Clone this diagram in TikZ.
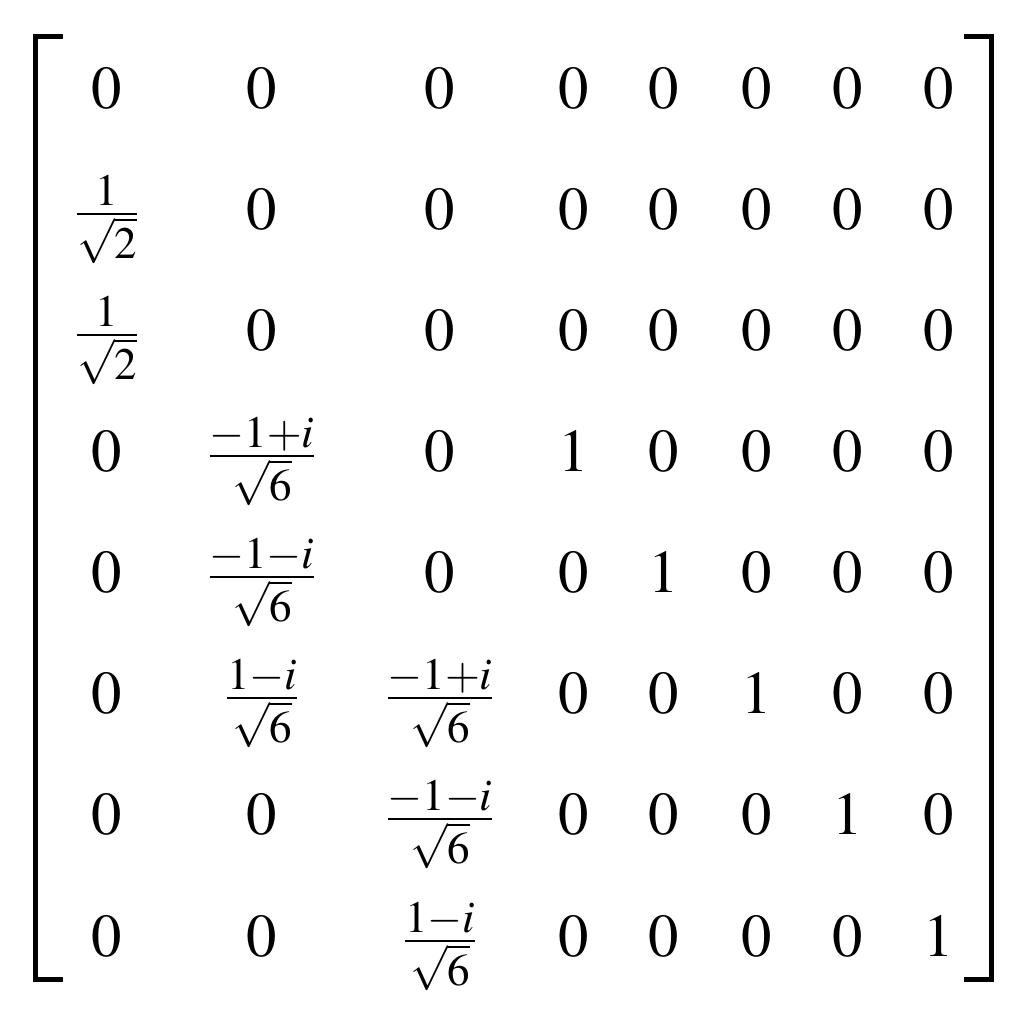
\documentclass[tikz,border=0pt]{standalone}
\usepackage{mathptmx}
\tikzset{
  entry/.style={anchor=base, inner sep=0pt, font=\fontsize{24.3}{29}\selectfont},
  bracket/.style={line width=2pt, line cap=rect}
}
\begin{document}
\begin{tikzpicture}[x=0.4pt, y=-0.4pt]
    \useasboundingbox (0, 0) rectangle (1024, 1016);

    % brackets
    \draw [bracket] (60, 36) -- (35, 36) -- (35, 979) -- (60, 979);
    \draw [bracket] (966, 36) -- (991, 36) -- (991, 979) -- (966, 979);

    % row 1
    \node [entry] (r1c1) at (107, 108) {$0$}; \node [entry] (r1c2) at (262, 108) {$0$}; \node [entry] (r1c3) at (440, 108) {$0$}; \node [entry] (r1c4) at (574, 108) {$0$};
    \node [entry] (r1c5) at (664, 108) {$0$}; \node [entry] (r1c6) at (757, 108) {$0$}; \node [entry] (r1c7) at (848, 108) {$0$}; \node [entry] (r1c8) at (939, 108) {$0$};
    % row 2
    \node [entry] (r2c1) at (107, 229) {$\frac{1}{\sqrt{2}}$}; \node [entry] (r2c2) at (262, 229) {$0$}; \node [entry] (r2c3) at (440, 229) {$0$}; \node [entry] (r2c4) at (574, 229) {$0$};
    \node [entry] (r2c5) at (664, 229) {$0$}; \node [entry] (r2c6) at (757, 229) {$0$}; \node [entry] (r2c7) at (848, 229) {$0$}; \node [entry] (r2c8) at (939, 229) {$0$};
    % row 3
    \node [entry] (r3c1) at (107, 350) {$\frac{1}{\sqrt{2}}$}; \node [entry] (r3c2) at (262, 350) {$0$}; \node [entry] (r3c3) at (440, 350) {$0$}; \node [entry] (r3c4) at (574, 350) {$0$};
    \node [entry] (r3c5) at (664, 350) {$0$}; \node [entry] (r3c6) at (757, 350) {$0$}; \node [entry] (r3c7) at (848, 350) {$0$}; \node [entry] (r3c8) at (939, 350) {$0$};
    % row 4
    \node [entry] (r4c1) at (107, 471) {$0$}; \node [entry] (r4c2) at (262, 471) {$\frac{-1+i}{\sqrt{6}}$}; \node [entry] (r4c3) at (440, 471) {$0$}; \node [entry] (r4c4) at (574, 471) {$1$};
    \node [entry] (r4c5) at (664, 471) {$0$}; \node [entry] (r4c6) at (757, 471) {$0$}; \node [entry] (r4c7) at (848, 471) {$0$}; \node [entry] (r4c8) at (939, 471) {$0$};
    % row 5
    \node [entry] (r5c1) at (107, 592) {$0$}; \node [entry] (r5c2) at (262, 592) {$\frac{-1-i}{\sqrt{6}}$}; \node [entry] (r5c3) at (440, 592) {$0$}; \node [entry] (r5c4) at (574, 592) {$0$};
    \node [entry] (r5c5) at (664, 592) {$1$}; \node [entry] (r5c6) at (757, 592) {$0$}; \node [entry] (r5c7) at (848, 592) {$0$}; \node [entry] (r5c8) at (939, 592) {$0$};
    % row 6
    \node [entry] (r6c1) at (107, 713) {$0$}; \node [entry] (r6c2) at (262, 713) {$\frac{1-i}{\sqrt{6}}$}; \node [entry] (r6c3) at (440, 713) {$\frac{-1+i}{\sqrt{6}}$}; \node [entry] (r6c4) at (574, 713) {$0$};
    \node [entry] (r6c5) at (664, 713) {$0$}; \node [entry] (r6c6) at (757, 713) {$1$}; \node [entry] (r6c7) at (848, 713) {$0$}; \node [entry] (r6c8) at (939, 713) {$0$};
    % row 7
    \node [entry] (r7c1) at (107, 834) {$0$}; \node [entry] (r7c2) at (262, 834) {$0$}; \node [entry] (r7c3) at (440, 834) {$\frac{-1-i}{\sqrt{6}}$}; \node [entry] (r7c4) at (574, 834) {$0$};
    \node [entry] (r7c5) at (664, 834) {$0$}; \node [entry] (r7c6) at (757, 834) {$0$}; \node [entry] (r7c7) at (848, 834) {$1$}; \node [entry] (r7c8) at (939, 834) {$0$};
    % row 8
    \node [entry] (r8c1) at (107, 956) {$0$}; \node [entry] (r8c2) at (262, 956) {$0$}; \node [entry] (r8c3) at (440, 956) {$\frac{1-i}{\sqrt{6}}$}; \node [entry] (r8c4) at (574, 956) {$0$};
    \node [entry] (r8c5) at (664, 956) {$0$}; \node [entry] (r8c6) at (757, 956) {$0$}; \node [entry] (r8c7) at (848, 956) {$0$}; \node [entry] (r8c8) at (939, 956) {$1$};
  \end{tikzpicture}
\end{document}
